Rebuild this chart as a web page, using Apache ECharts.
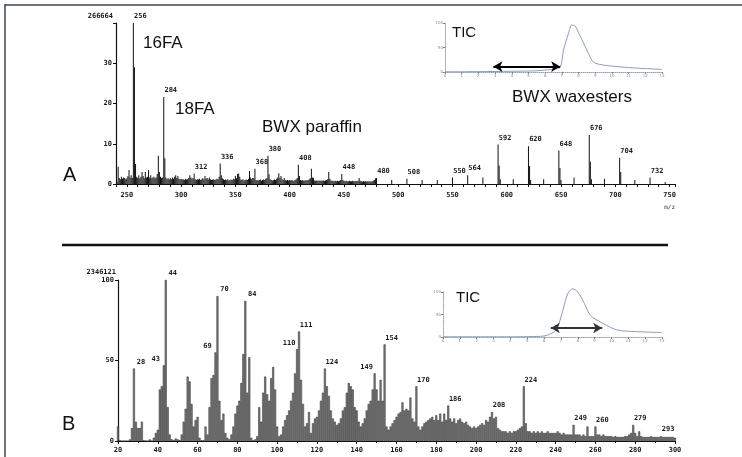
<!DOCTYPE html>
<html><head><meta charset="utf-8">
<script src="https://cdn.jsdelivr.net/npm/echarts@6/dist/echarts.min.js"></script>
<style>html,body{margin:0;padding:0;background:#fff}#c{width:742px;height:457px}</style>
</head><body><div id="c"></div>
<script>
// ---------- Panel A: m/z 240..479 (one value per unit), then sparse peaks ----------
const startA = 240;
const intensA = [
  0,0.5,4.3,1.5,1.2,1.8,1.3,1.6,1.5,1.2,
  1.4,2.0,3.5,1.6,2.2,1.5,40,29,5,1.8,
  1.5,2.2,1.4,1.8,3.0,2.0,1.4,3.0,1.6,1.8,
  3.5,1.6,2.2,1.4,1.6,1.8,1.4,1.6,2.5,7,
  3.0,1.8,1.5,1.6,21.6,6.4,1.6,1.2,1.4,1.2,
  1.5,1.2,1.6,1.3,1.8,2.2,1.5,2.0,1.3,1.2,
  1.3,1.1,1.2,1.0,1.3,1.1,1.2,1.5,2.2,1.6,
  1.3,1.5,2.6,1.2,1.0,1.2,1.1,1.3,1.0,1.2,
  1.4,1.2,2.0,1.3,1.5,1.1,1.6,1.2,1.0,1.1,
  1.2,1.0,1.1,1.3,1.2,1.8,5.1,2.2,1.4,1.2,
  1.0,1.1,1.0,1.2,0.9,1.0,1.1,1.0,1.3,1.2,
  2.0,1.4,2.5,2.6,1.8,1.1,1.0,1.2,0.9,1.0,
  1.1,1.0,1.3,3.2,1.6,1.2,1.5,1.5,3.8,1.0,
  1.0,0.9,1.0,1.1,0.9,1.0,1.1,1.0,1.3,1.5,
  7.0,2.4,1.2,1.0,0.9,1.0,1.1,1.0,1.3,1.6,
  2.7,1.5,2.0,1.2,1.0,1.5,1.0,0.9,1.0,0.9,
  1.0,0.9,1.0,0.8,0.9,1.0,1.2,1.5,4.8,2.0,
  1.0,0.9,1.0,0.8,0.9,1.0,0.9,1.0,1.2,1.4,
  3.8,1.6,1.5,0.9,0.8,0.9,0.8,0.9,0.8,0.9,
  0.8,0.9,0.8,0.9,1.0,1.2,3.0,1.3,0.9,0.8,
  0.8,0.7,0.8,0.7,0.8,0.7,0.8,1.0,2.5,1.0,
  0.8,0.7,0.8,0.7,0.7,0.8,0.7,0.7,0.8,0.7,
  0.7,0.8,0.7,0.8,1.5,0.8,0.7,0.6,0.7,0.6,
  0.7,0.6,0.7,0.6,0.7,0.6,0.7,0.8,1.0,1.4
];
const peaksA = [
  [480,1.5],[494,1.0],[508,1.3],[522,1.0],[536,1.0],[550,1.6],[564,2.2],[578,1.6],
  [592,9.8],[593,4.6],[594,1.2],[606,1.2],[620,9.4],[621,4.5],[622,1.0],[634,1.2],
  [648,8.3],[649,4.0],[650,1.0],[662,1.6],[676,12.2],[677,5.5],[678,1.2],[690,1.3],
  [704,6.5],[705,3.0],[718,1.0],[732,1.6],[746,0.5]
];
const labelsA = [256,284,312,336,368,380,408,448,480,508,550,564,592,620,648,676,704,732];

// ---------- Panel B: m/z 20..300 ----------
const startB = 20;
const intensB = [
  9,0.5,0,0,0,0,1,8,45,12,
  8,8,12,0.5,0,0,1,0,2,5,
  7,32,34,47,100,21,4,1,0.5,1.5,
  1,0.5,4,12,20,40,37,23,9,13,
  15,2,0.5,0.5,9,4,21,39,41,55,
  90,25,13,17,5,2,1,4,9,17,
  22,25,36,54,87,30,52,2,0.5,1,
  3,21,12,30,40,29,25,39,46,32,
  9,3,4,9,13,16,19,25,30,42,
  57,68,38,23,9,11,18,5,11,14,
  15,19,25,30,45,34,28,19,14,12,
  10,11,14,19,21,30,36,34,32,21,
  19,12,9,11,14,19,23,25,32,42,
  32,25,38,25,60,9,7,9,11,13,
  15,17,18,24,19,20,19,27,14,12,
  34,9,7,9,11,12,13,14,15,13,
  16,13,17,12,17,13,22,14,12,14,
  11,13,14,12,11,12,10,9,8,9,
  8,9,10,11,10,13,12,15,18,14,
  15,8,7,6,6,6,5,6,5,6,
  6,7,8,9,34,11,6,6,5,6,
  5,6,5,6,5,5,6,5,5,5,
  5,6,5,4,5,4,4,4,4,10,
  4,4,4,3,4,3,9,3,3,3,
  9,4,4,3,4,3,3,3,3,2.5,
  3,2.5,2.5,2.5,2.5,3,3,4,5,10,
  5,3,6,3,2.5,2.5,2.5,2.5,3,2.5,
  2.5,2.5,2.5,3,2.5,2.5,2.5,2.5,2.5,2.5,
  2
];
const labelsB = [28,43,44,69,70,84,110,111,124,149,154,170,186,208,224,249,260,279,293];
const leftLabelsB = [43,69,110,149];

// ---------- TIC insets ----------
const ticA_t = [0,1,2,3,4,5,5.5,6,6.5,6.9,7.1,7.4,7.6,7.8,8.0,8.4,8.8,9.0,9.5,10,11,12,13];
const ticA_v = [0.5,0.5,0.8,1,1.5,2,2.5,4,6,10,45,79,96,94,80,52,24,18,14,12,9,7,5.5];
const ticB_t = [0,1,2,3,4,5,5.8,6.2,6.7,7.0,7.4,7.7,8.0,8.4,8.75,9.35,9.7,10.3,10.9,12.1,13];
const ticB_v = [0.5,0.5,0.5,0.5,0.5,0.8,1.5,4,15,44,96,107,100,74,48,33,26,16,13,11,10];
const arrowA = [2.9, 6.9, 11];
const arrowB = [6.4, 9.45, 20];

const labelFont = {fontFamily:'DejaVu Sans Mono', fontSize:7, color:'#1a1a1a', fontWeight:'bold'};
const tickFont = {fontFamily:'DejaVu Sans Mono', fontSize:7, color:'#1a1a1a', fontWeight:'bold'};

function toItems(pairs, labels, leftLabels){
  return pairs.map(([mz,v])=>{
    const item = {value:[mz,v]};
    if(labels.indexOf(mz) >= 0){
      const left = leftLabels.indexOf(mz) >= 0;
      item.label = Object.assign({show:true, position:'top', distance:3,
        offset:[left?-8:7,0], formatter:String(mz)}, labelFont);
    }
    return item;
  });
}
const pairsA = intensA.map((v,i)=>[startA+i, v]).concat(peaksA);
const pairsB = intensB.map((v,i)=>[startB+i, v]);

const insetAxisLine = {lineStyle:{color:'#9aa3b0', type:'dotted', width:1}};
const insetLabel = {fontSize:4, color:'#888', margin:2, fontFamily:'DejaVu Sans'};

const option = {
  animation:false,
  backgroundColor:'#fff',
  grid:[
    {left:116, top:23, width:559, height:161},
    {left:118, top:280, width:557, height:161},
    {left:445, top:23, width:217, height:49},
    {left:443, top:292, width:219, height:45}
  ],
  xAxis:[
    {type:'value', gridIndex:0, min:240, max:755, interval:10,
     axisLine:{lineStyle:{color:'#111', width:1}}, axisTick:{length:3, lineStyle:{color:'#111'}},
     axisLabel:Object.assign({margin:8, formatter:v=> v%50===0 ? String(v) : ''}, tickFont),
     splitLine:{show:false},
     name:'m/z', nameLocation:'end', nameGap:0,
     nameTextStyle:{fontFamily:'DejaVu Sans Mono', fontSize:6, color:'#333', align:'right', verticalAlign:'top', padding:[20,0,0,0]}},
    {type:'value', gridIndex:1, min:20, max:300, interval:20,
     axisLine:{lineStyle:{color:'#111', width:1}}, axisTick:{length:3, lineStyle:{color:'#111'}},
     minorTick:{show:true, splitNumber:2, length:2, lineStyle:{color:'#111'}},
     axisLabel:Object.assign({margin:6}, tickFont), splitLine:{show:false}},
    {type:'value', gridIndex:2, min:0, max:13, interval:1,
     axisLine:insetAxisLine, axisTick:{length:2, lineStyle:{color:'#888'}},
     axisLabel:insetLabel, splitLine:{show:false}},
    {type:'value', gridIndex:3, min:0, max:13, interval:1,
     axisLine:insetAxisLine, axisTick:{length:2, lineStyle:{color:'#888'}},
     axisLabel:insetLabel, splitLine:{show:false}}
  ],
  yAxis:[
    {type:'value', gridIndex:0, min:0, max:40, interval:10,
     axisLine:{show:true, lineStyle:{color:'#111', width:1.2}}, axisTick:{show:true, length:3, lineStyle:{color:'#111'}},
     axisLabel:Object.assign({margin:4, formatter:v=> v===40 ? '' : String(v)}, tickFont),
     splitLine:{show:false},
     name:'266664', nameLocation:'end', nameGap:3,
     nameTextStyle:{fontFamily:'DejaVu Sans Mono', fontSize:7, fontWeight:'bold', color:'#1a1a1a', align:'right', padding:[0,3,0,0]}},
    {type:'value', gridIndex:1, min:0, max:100, interval:50,
     axisLine:{show:true, lineStyle:{color:'#111', width:1.2}}, axisTick:{show:true, length:3, lineStyle:{color:'#111'}},
     axisLabel:Object.assign({margin:4}, tickFont), splitLine:{show:false},
     name:'2346121', nameLocation:'end', nameGap:4,
     nameTextStyle:{fontFamily:'DejaVu Sans Mono', fontSize:7, fontWeight:'bold', color:'#1a1a1a', align:'right', padding:[0,2,0,0]}},
    {type:'value', gridIndex:2, min:0, max:100, interval:50,
     axisLine:Object.assign({show:true}, insetAxisLine), axisTick:{show:true, length:2, lineStyle:{color:'#888'}},
     axisLabel:insetLabel, splitLine:{show:false}},
    {type:'value', gridIndex:3, min:0, max:100, interval:50,
     axisLine:Object.assign({show:true}, insetAxisLine), axisTick:{show:true, length:2, lineStyle:{color:'#888'}},
     axisLabel:insetLabel, splitLine:{show:false}}
  ],
  series:[
    {type:'bar', xAxisIndex:0, yAxisIndex:0, barWidth:1, itemStyle:{color:'#111'},
     data:toItems(pairsA, labelsA, []), silent:true},
    {type:'bar', xAxisIndex:1, yAxisIndex:1, barWidth:2,
     itemStyle:{color:'#7f7f7f', borderColor:'#262626', borderWidth:0.5},
     data:toItems(pairsB, labelsB, leftLabelsB), silent:true},
    {type:'line', xAxisIndex:2, yAxisIndex:2, showSymbol:false, smooth:0.3, clip:false,
     lineStyle:{color:'#8a9cc0', width:1}, data:ticA_t.map((t,i)=>[t,ticA_v[i]]),
     markLine:{silent:true, symbol:['arrow','arrow'], symbolSize:[8,9], label:{show:false},
       lineStyle:{color:'#000', width:2, type:'solid'},
       data:[[{coord:[arrowA[0],arrowA[2]]},{coord:[arrowA[1],arrowA[2]]}]]}},
    {type:'line', xAxisIndex:3, yAxisIndex:3, showSymbol:false, smooth:0.3, clip:false,
     lineStyle:{color:'#8a9cc0', width:1}, data:ticB_t.map((t,i)=>[t,ticB_v[i]]),
     markLine:{silent:true, symbol:['arrow','arrow'], symbolSize:[8,9], label:{show:false},
       lineStyle:{color:'#333', width:2, type:'solid'},
       data:[[{coord:[arrowB[0],arrowB[2]]},{coord:[arrowB[1],arrowB[2]]}]]}}
  ],
  graphic:[
    {type:'line', shape:{x1:5, y1:4, x2:5, y2:457}, style:{stroke:'#3b4652', lineWidth:1.5}},
    {type:'line', shape:{x1:5, y1:5, x2:742, y2:5}, style:{stroke:'#3b4652', lineWidth:1.5}},
    {type:'line', shape:{x1:62, y1:245, x2:668, y2:245}, style:{stroke:'#111', lineWidth:2.5}},
    {type:'text', x:143, y:43, style:{text:'16FA', fontFamily:'Liberation Sans, Arial', fontSize:17, fill:'#111', verticalAlign:'middle'}},
    {type:'text', x:175, y:109, style:{text:'18FA', fontFamily:'Liberation Sans, Arial', fontSize:17, fill:'#111', verticalAlign:'middle'}},
    {type:'text', x:262, y:127, style:{text:'BWX paraffin', fontFamily:'Liberation Sans, Arial', fontSize:17, fill:'#111', verticalAlign:'middle'}},
    {type:'text', x:512, y:97, style:{text:'BWX waxesters', fontFamily:'Liberation Sans, Arial', fontSize:17, fill:'#111', verticalAlign:'middle'}},
    {type:'text', x:63, y:175, style:{text:'A', fontFamily:'Liberation Sans, Arial', fontSize:20, fill:'#111', verticalAlign:'middle'}},
    {type:'text', x:62, y:424, style:{text:'B', fontFamily:'Liberation Sans, Arial', fontSize:20, fill:'#111', verticalAlign:'middle'}},
    {type:'text', x:452, y:33, style:{text:'TIC', fontFamily:'Liberation Sans, Arial', fontSize:15, fill:'#111', verticalAlign:'middle'}},
    {type:'text', x:456, y:298, style:{text:'TIC', fontFamily:'Liberation Sans, Arial', fontSize:15, fill:'#111', verticalAlign:'middle'}}
  ]
};
const chart = echarts.init(document.getElementById('c'));
chart.setOption(option);
</script>
</body></html>
